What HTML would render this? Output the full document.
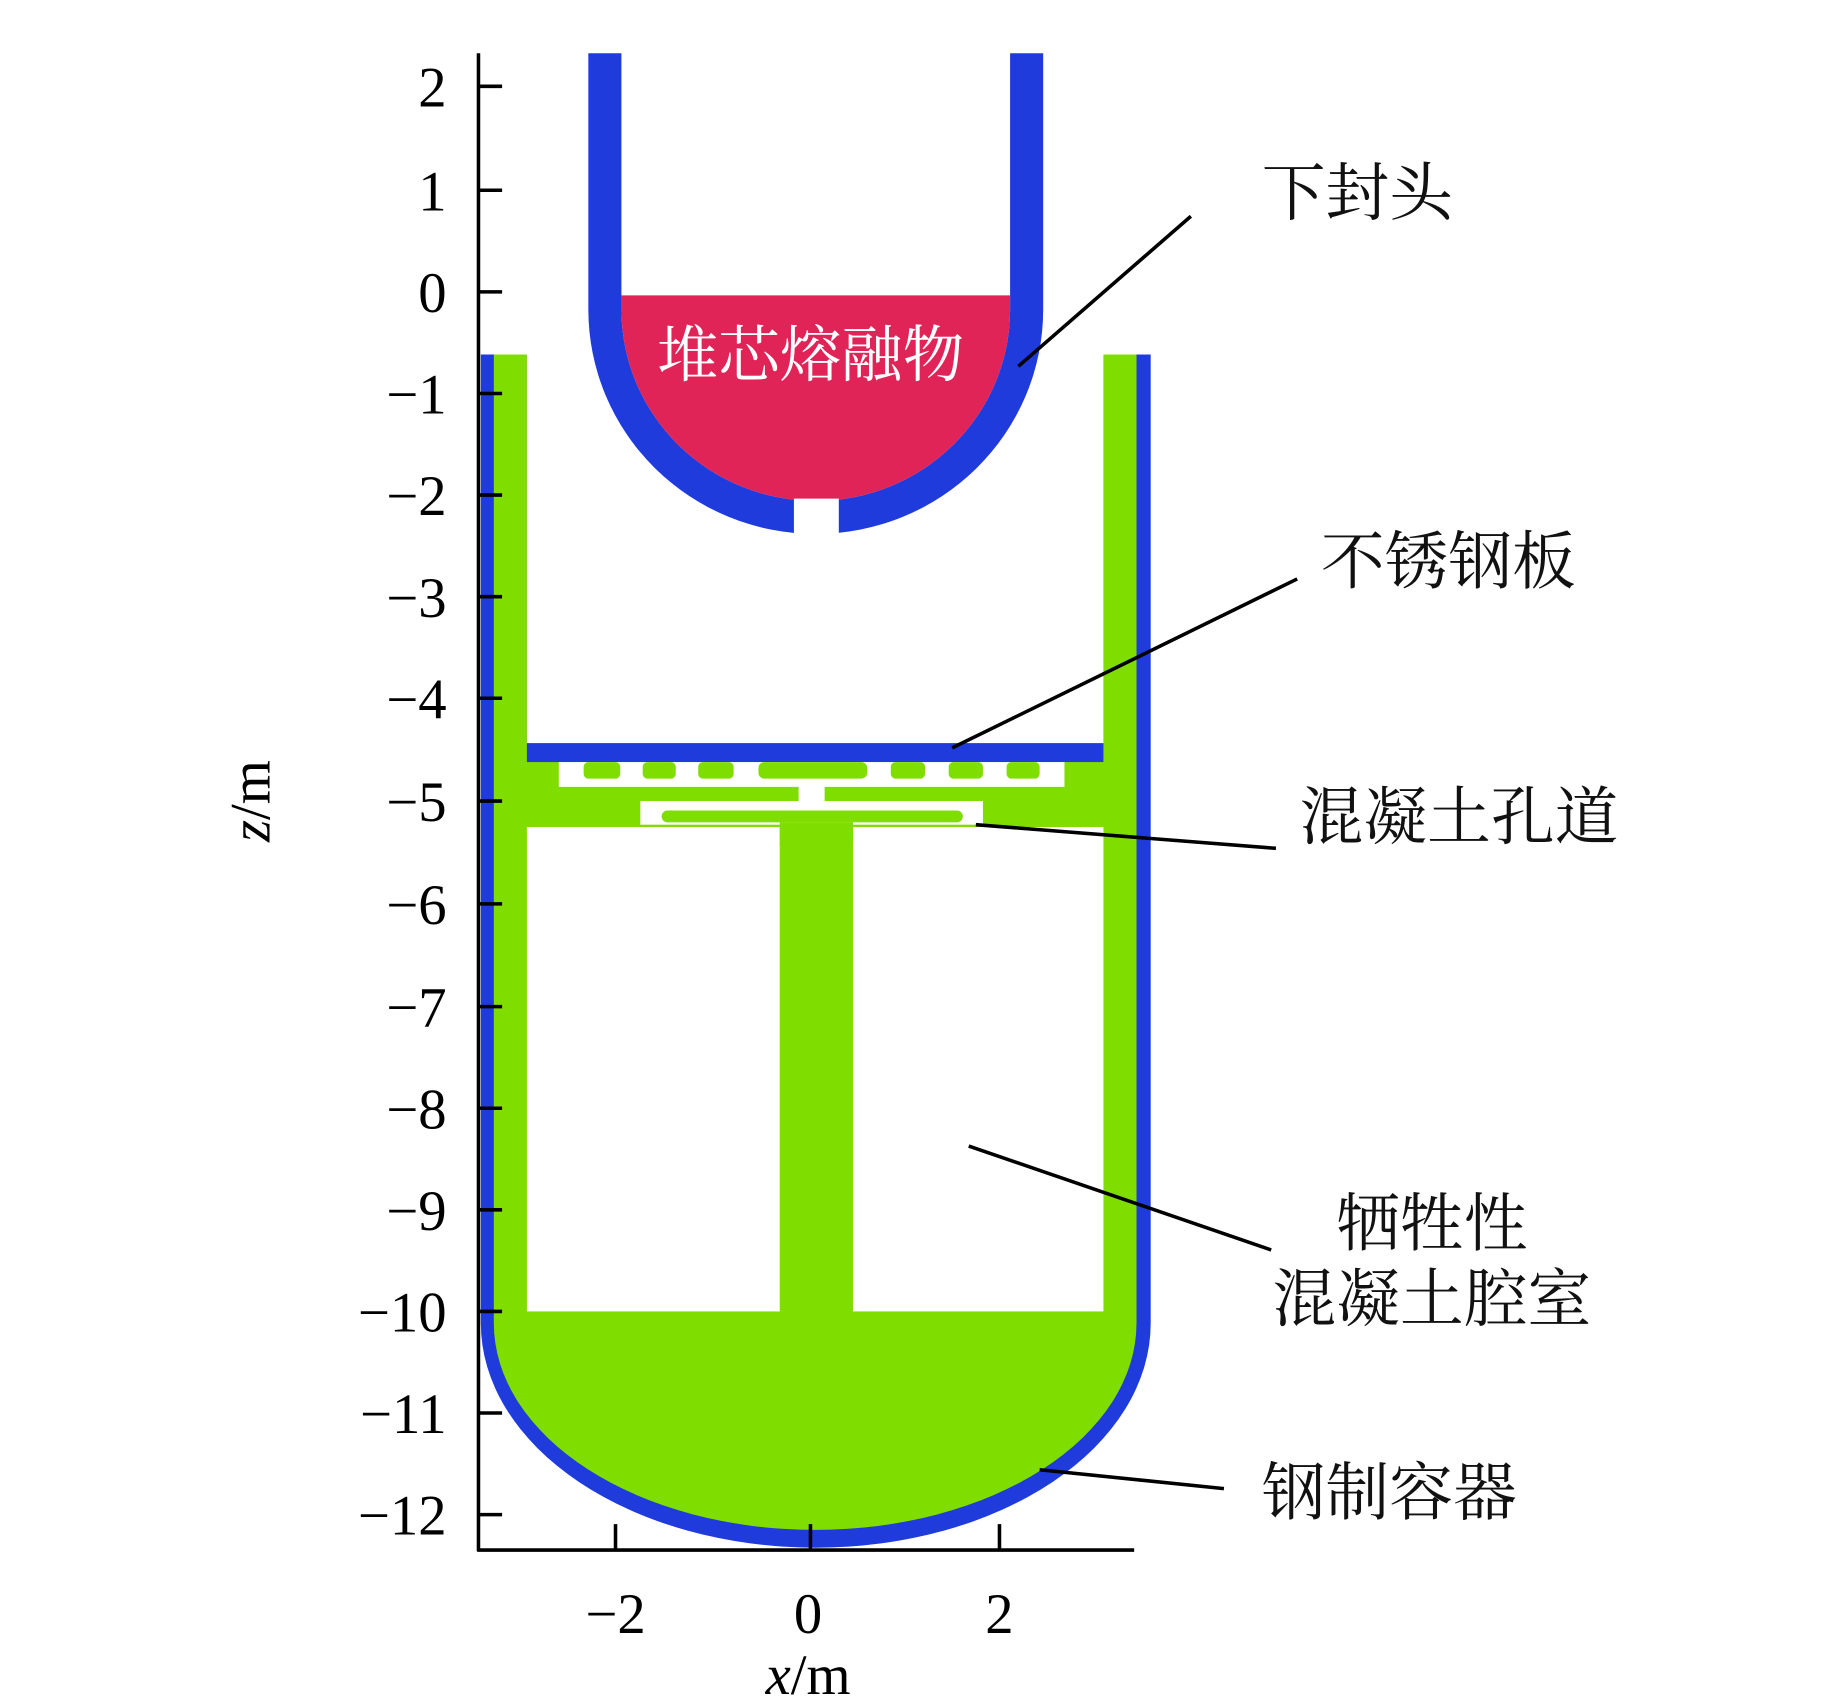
<!DOCTYPE html>
<html><head><meta charset="utf-8"><style>
html,body{margin:0;padding:0;background:#fff;}
svg{display:block;}
.t{font-family:"Liberation Serif",serif;font-size:48px;fill:#000;}
.c{font-family:"Liberation Serif","Noto Serif CJK SC",serif;font-size:54px;fill:#111;}
</style></head><body>
<svg width="1843" height="1699" viewBox="0 0 1560 1438" xmlns="http://www.w3.org/2000/svg">
<!-- vessel -->
<path d="M407,300 L974,300 L974,1120 A283.5,190 0 0 1 407,1120 Z" fill="#1f3bdc"/>
<path d="M418,300 L446,300 L446,629 L934,629 L934,300 L962,300 L962,1120 A272,175 0 0 1 418,1120 Z" fill="#80dd00"/>
<rect x="446" y="300" width="488" height="329" fill="#fff"/>
<rect x="446" y="629" width="488" height="16" fill="#1f3bdc"/>
<rect x="473" y="645" width="428" height="21" fill="#fff"/>
<g fill="#80dd00">
<rect x="494" y="645" width="31" height="14" rx="4"/><rect x="544" y="645" width="28" height="14" rx="4"/>
<rect x="591" y="645" width="30" height="14" rx="4"/><rect x="642" y="645" width="92" height="14" rx="5"/>
<rect x="754" y="645" width="29" height="14" rx="4"/><rect x="803" y="645" width="29" height="14" rx="4"/>
<rect x="852" y="645" width="28" height="14" rx="4"/>
</g>
<rect x="676" y="665" width="22" height="14" fill="#fff"/>
<rect x="542" y="678" width="290" height="20" fill="#fff"/>
<rect x="560" y="686" width="255" height="10" rx="5" fill="#80dd00"/>
<rect x="446" y="700" width="214" height="410" fill="#fff"/>
<rect x="722" y="700" width="212" height="410" fill="#fff"/>
<rect x="660" y="696" width="62" height="20" fill="#80dd00"/>
<!-- lower head -->
<path d="M498,45 L498,262 A192.5,190 0 0 0 883,262 L883,45 L855,45 L855,262 A164.5,162 0 0 1 526,262 L526,45 Z" fill="#1f3bdc"/>
<path d="M526,250 L855,250 L855,262 A164.5,162 0 0 1 526,262 Z" fill="#e12457"/>
<rect x="672" y="422" width="38" height="40" fill="#fff"/>
<text x="686" y="318" text-anchor="middle" font-family="Liberation Serif,'Noto Serif CJK SC',serif" font-size="52" fill="#fff">堆芯熔融物</text>
<!-- axes -->
<g stroke="#000" stroke-width="3" fill="none">
<line x1="405" y1="45" x2="405" y2="1313"/>
<line x1="404" y1="1312" x2="960" y2="1312"/>
<path d="M405,73h20M405,161h20M405,247h20M405,333h20M405,419h20M405,505h20M405,591h20M405,678h20M405,765h20M405,852h20M405,938h20M405,1024h20M405,1110h20M405,1196h20M405,1282h20"/>
<path d="M521,1312v-22M686,1312v-22M846,1312v-22"/>
</g>
<g class="t" text-anchor="end">
<text x="378" y="90">2</text><text x="378" y="178">1</text><text x="378" y="264">0</text>
<text x="378" y="350">−1</text><text x="378" y="436">−2</text><text x="378" y="522">−3</text>
<text x="378" y="608">−4</text><text x="378" y="695">−5</text><text x="378" y="782">−6</text>
<text x="378" y="869">−7</text><text x="378" y="955">−8</text><text x="378" y="1041">−9</text>
<text x="378" y="1127">−10</text><text x="378" y="1213">−11</text><text x="378" y="1299">−12</text>
</g>
<g class="t" text-anchor="middle">
<text x="521" y="1382">−2</text><text x="684" y="1382">0</text><text x="846" y="1382">2</text>
<text x="684" y="1434"><tspan font-style="italic">x</tspan>/m</text>
<text transform="translate(228,678) rotate(-90)"><tspan font-style="italic">z</tspan>/m</text>
</g>
<!-- leaders -->
<g stroke="#000" stroke-width="3">
<line x1="862" y1="310" x2="1008" y2="183"/>
<line x1="806" y1="633" x2="1098" y2="490"/>
<line x1="826" y1="698" x2="1080" y2="718"/>
<line x1="820" y1="970" x2="1076" y2="1058"/>
<line x1="880" y1="1244" x2="1036" y2="1260"/>
</g>
<g class="c">
<text x="1068" y="182">下封头</text>
<text x="1118" y="494">不锈钢板</text>
<text x="1100" y="710">混凝土孔道</text>
<text x="1212" y="1054" text-anchor="middle">牺牲性</text>
<text x="1212" y="1118" text-anchor="middle">混凝土腔室</text>
<text x="1068" y="1282">钢制容器</text>
</g>
</svg>
</body></html>
